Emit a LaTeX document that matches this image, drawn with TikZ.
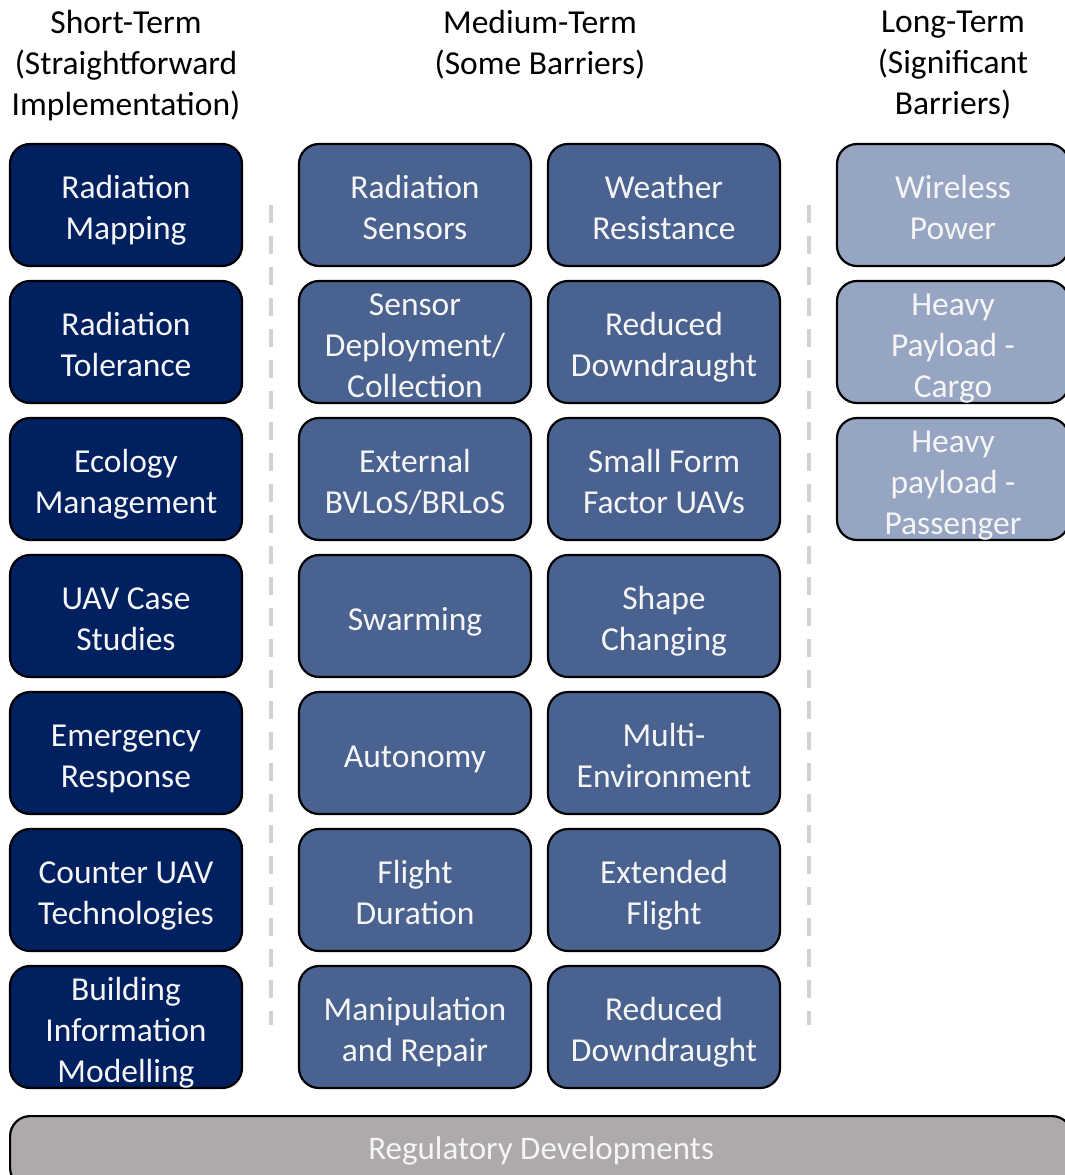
\documentclass[tikz,border=0pt]{standalone}
\usepackage{fontspec}
\setmainfont{Carlito}
\usepackage{tikz}

\definecolor{shortblue}{RGB}{0,32,96}
\definecolor{midblue}{RGB}{74,98,144}
\definecolor{longblue}{RGB}{150,165,193}
\definecolor{reggrey}{RGB}{174,170,170}
\definecolor{sepgrey}{RGB}{210,210,210}

% box text: centred lines, first line a bit taller so the block sits lower;
% the block takes no height itself so three lines do not stretch the box
\newcommand{\topstrut}{\rule{0pt}{36.7pt}}
\newcommand{\boxtext}[1]{\raisebox{-8.375pt}[0pt][0pt]{%
  \begin{tabular}{@{}c@{}}\topstrut#1\strut\end{tabular}}}

\tikzset{
  frame/.style={draw=black, line width=2.2pt, rounded corners=20pt, inner sep=0pt,
    text={rgb,255:red,245;green,245;blue,245}},
  box/.style={frame, minimum width=232pt, minimum height=122pt,
    font=\fontsize{33.5}{41}\selectfont},
  shortbox/.style={box, fill=shortblue},
  midbox/.style={box, fill=midblue},
  longbox/.style={box, fill=longblue},
  heading/.style={align=center, inner sep=0pt, font=\fontsize{33.5}{41}\selectfont,
    execute at begin node=\strut, execute at end node=\strut},
  separator/.style={draw=sepgrey, line width=4pt, dash pattern=on 18pt off 13pt}
}

\begin{document}
\begin{tikzpicture}[x=1pt,y=1pt,yscale=-1,xscale=1]
\useasboundingbox (0,0) rectangle (1065,1175);
\clip (0,0) rectangle (1065,1175);

% Column headings
\node [heading] (hShort) at (126,69) {Short-Term\\(Straightforward\\Implementation)};
\node [heading] (hMid) at (540,49) {Medium-Term\\(Some Barriers)};
\node [heading] (hLong) at (953,69) {Long-Term\\(Significant\\Barriers)};

% Short-term column
\node [shortbox] (s1) at (126,205) {\boxtext{Radiation\\Mapping}};
\node [shortbox] (s2) at (126,342) {\boxtext{Radiation\\Tolerance}};
\node [shortbox] (s3) at (126,479) {\boxtext{Ecology\\Management}};
\node [shortbox] (s4) at (126,616) {\boxtext{UAV Case\\Studies}};
\node [shortbox] (s5) at (126,753) {\boxtext{Emergency\\Response}};
\node [shortbox] (s6) at (126,890) {\boxtext{Counter UAV\\Technologies}};
\node [shortbox] (s7) at (126,1027) {\boxtext{Building\\Information\\Modelling}};

% Medium-term, left column
\node [midbox] (m1) at (415,205) {\boxtext{Radiation\\Sensors}};
\node [midbox] (m2) at (415,342) {\boxtext{Sensor\\Deployment/\\Collection}};
\node [midbox] (m3) at (415,479) {\boxtext{External\\BVLoS/BRLoS}};
\node [midbox] (m4) at (415,616) {\boxtext{Swarming}};
\node [midbox] (m5) at (415,753) {\boxtext{Autonomy}};
\node [midbox] (m6) at (415,890) {\boxtext{Flight\\Duration}};
\node [midbox] (m7) at (415,1027) {\boxtext{Manipulation\\and Repair}};

% Medium-term, right column
\node [midbox] (n1) at (664,205) {\boxtext{Weather\\Resistance}};
\node [midbox] (n2) at (664,342) {\boxtext{Reduced\\Downdraught}};
\node [midbox] (n3) at (664,479) {\boxtext{Small Form\\Factor UAVs}};
\node [midbox] (n4) at (664,616) {\boxtext{Shape\\Changing}};
\node [midbox] (n5) at (664,753) {\boxtext{Multi-\\Environment}};
\node [midbox] (n6) at (664,890) {\boxtext{Extended\\Flight}};
\node [midbox] (n7) at (664,1027) {\boxtext{Reduced\\Downdraught}};

% Long-term column
\node [longbox] (l1) at (953,205) {\boxtext{Wireless\\Power}};
\node [longbox] (l2) at (953,342) {\boxtext{Heavy\\Payload -\\Cargo}};
\node [longbox] (l3) at (953,479) {\boxtext{Heavy\\payload -\\Passenger}};

% Dashed separators
\coordinate (sepA top) at (271,205);
\coordinate (sepA bot) at (271,1025);
\coordinate (sepB top) at (809,205);
\coordinate (sepB bot) at (809,1025);
\draw [separator] (sepA top) -- (sepA bot);
\draw [separator] (sepB top) -- (sepB bot);

% Regulatory bar along the bottom
\node [frame, fill=reggrey, minimum width=1062pt, minimum height=72pt, anchor=north west,
  font=\fontsize{33}{38}\selectfont, execute at end node=\strut] (reg) at (9,1115)
  {Regulatory Developments};

\end{tikzpicture}
\end{document}
